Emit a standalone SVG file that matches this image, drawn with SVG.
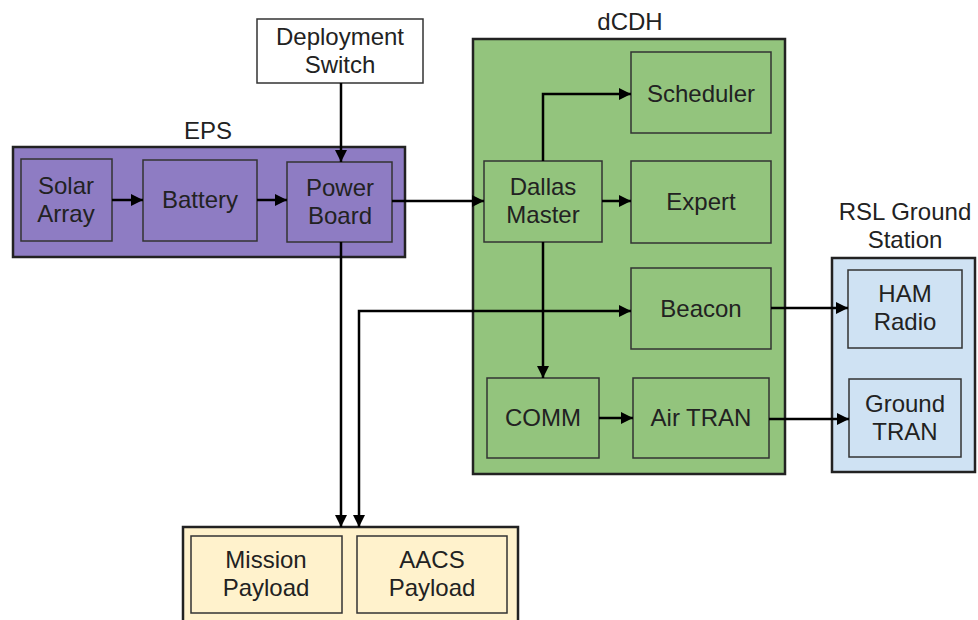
<svg xmlns="http://www.w3.org/2000/svg" width="978" height="620" viewBox="0 0 978 620">
<style>
text{font-family:"Liberation Sans",Arial,sans-serif;font-size:24px;fill:#222;text-anchor:middle}
.box{stroke:#333;stroke-width:1.5}
.outer{stroke:#222;stroke-width:2.5}
.eps{fill:#8e7cc3}
.cdh{fill:#93c47d}
.pay{fill:#fff2cc}
.gs{fill:#cfe2f3}
.conn{fill:none;stroke:#000;stroke-width:2.5}
</style>
<defs>
<marker id="ah" viewBox="0 0 10 10" refX="10" refY="5" markerWidth="5" markerHeight="5" orient="auto-start-reverse" markerUnits="strokeWidth">
<path d="M0,0 L10,5 L0,10 z" fill="#000"/>
</marker>
</defs>
<rect width="978" height="620" fill="#fff"/>

<g id="eps">
<rect class="outer eps" x="13" y="147" width="392" height="110"/>
<text x="208" y="139">EPS</text>
</g>
<g id="solar-array">
<rect class="box eps" x="21" y="159" width="91" height="82"/>
<text x="66" y="194">Solar</text><text x="66" y="222">Array</text>
</g>
<g id="battery">
<rect class="box eps" x="143" y="160" width="114" height="81"/>
<text x="200" y="208">Battery</text>
</g>
<g id="power-board">
<rect class="box eps" x="287" y="162" width="105" height="80"/>
<text x="340" y="196">Power</text><text x="340" y="224">Board</text>
</g>
<g id="deployment-switch">
<rect class="box" fill="#fff" x="257" y="19" width="166" height="64"/>
<text x="340" y="45">Deployment</text><text x="340" y="73">Switch</text>
</g>

<g id="dcdh">
<rect class="outer cdh" x="473" y="39" width="312" height="435"/>
<text x="630" y="30">dCDH</text>
</g>
<g id="scheduler">
<rect class="box cdh" x="631" y="52" width="140" height="81"/>
<text x="701" y="102">Scheduler</text>
</g>
<g id="dallas-master">
<rect class="box cdh" x="484" y="161" width="118" height="81"/>
<text x="543" y="195">Dallas</text><text x="543" y="223">Master</text>
</g>
<g id="expert">
<rect class="box cdh" x="631" y="161" width="140" height="82"/>
<text x="701" y="210">Expert</text>
</g>
<g id="beacon">
<rect class="box cdh" x="631" y="268" width="140" height="81"/>
<text x="701" y="317">Beacon</text>
</g>
<g id="comm">
<rect class="box cdh" x="487" y="378" width="112" height="80"/>
<text x="543" y="426">COMM</text>
</g>
<g id="air-tran">
<rect class="box cdh" x="633" y="378" width="136" height="80"/>
<text x="701" y="426">Air TRAN</text>
</g>

<g id="rsl-ground-station">
<rect class="outer gs" x="832" y="258" width="143" height="214"/>
<text x="905" y="220">RSL Ground</text><text x="905" y="248">Station</text>
</g>
<g id="ham-radio">
<rect class="box gs" x="848" y="270" width="114" height="78"/>
<text x="905" y="302">HAM</text><text x="905" y="330">Radio</text>
</g>
<g id="ground-tran">
<rect class="box gs" x="849" y="379" width="112" height="78"/>
<text x="905" y="412">Ground</text><text x="905" y="440">TRAN</text>
</g>

<g id="payloads">
<rect class="outer pay" x="183" y="527" width="335" height="100"/>
</g>
<g id="mission-payload">
<rect class="box pay" x="191" y="536" width="151" height="77"/>
<text x="266" y="568">Mission</text><text x="266" y="596">Payload</text>
</g>
<g id="aacs-payload">
<rect class="box pay" x="357" y="536" width="150" height="77"/>
<text x="432" y="568">AACS</text><text x="432" y="596">Payload</text>
</g>

<g id="connectors">
<path class="conn" marker-end="url(#ah)" d="M112,200 H143"/>
<path class="conn" marker-end="url(#ah)" d="M257,200 H287"/>
<path class="conn" marker-end="url(#ah)" d="M341,83 V162"/>
<path class="conn" marker-end="url(#ah)" d="M392,201 H484"/>
<path class="conn" marker-end="url(#ah)" d="M543,161 V94 H631"/>
<path class="conn" marker-end="url(#ah)" d="M602,201 H631"/>
<path class="conn" marker-end="url(#ah)" d="M543,242 V378"/>
<path class="conn" marker-end="url(#ah)" d="M599,418 H633"/>
<path class="conn" marker-end="url(#ah)" d="M771,308 H848"/>
<path class="conn" marker-end="url(#ah)" d="M769,419 H849"/>
<path class="conn" marker-end="url(#ah)" d="M341,242 V527"/>
<path class="conn" marker-start="url(#ah)" marker-end="url(#ah)" d="M359,527 V311 H631"/>
</g>
</svg>
